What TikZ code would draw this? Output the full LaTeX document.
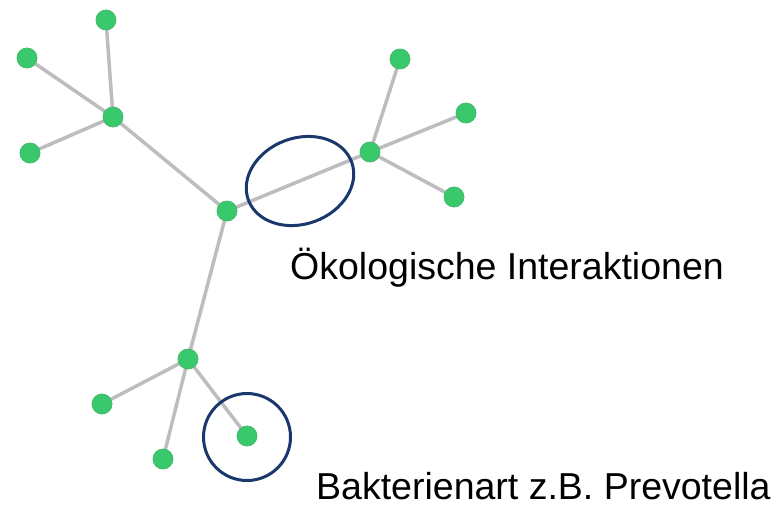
\documentclass[tikz,border=0pt]{standalone}
\usepackage{fontspec}
\setmainfont{Liberation Sans}
\usetikzlibrary{backgrounds}
\definecolor{nodegreen}{RGB}{58,200,108}
\definecolor{nodeedge}{RGB}{70,185,110}
\definecolor{linkgray}{RGB}{190,188,190}
\definecolor{ringblue}{RGB}{26,56,108}
\begin{document}
\begin{tikzpicture}[x=1pt,y=-1pt,
  vertex/.style={circle,fill=nodegreen,draw=nodeedge,line width=0.8pt,minimum size=20pt,inner sep=0pt},
  link/.style={draw=linkgray,line width=3.5pt},
  ring/.style={draw=ringblue,line width=3pt},
  caption/.style={anchor=base west,inner sep=0pt,font=\fontsize{37.5}{42}\selectfont}]
\useasboundingbox (0,0) rectangle (778,508);
% network nodes
\node[vertex] (a) at (106,20) {};
\node[vertex] (b) at (27,58) {};
\node[vertex] (c) at (113,117) {};
\node[vertex] (d) at (30,153) {};
\node[vertex] (e) at (227,211) {};
\node[vertex] (f) at (370,152) {};
\node[vertex] (g) at (400,59) {};
\node[vertex] (h) at (466,113) {};
\node[vertex] (i) at (454,197) {};
\node[vertex] (j) at (188,359) {};
\node[vertex] (k) at (102,404) {};
\node[vertex] (l) at (163,459) {};
\node[vertex] (m) at (247,436) {};
% edges, centre to centre, behind the nodes
\begin{scope}[on background layer]
\foreach \u/\v in {c/a,c/b,c/d,c/e,e/f,f/g,f/h,f/i,e/j,j/k,j/l,j/m}
  \draw[link] (\u.center) -- (\v.center);
\end{scope}
% highlight rings
\coordinate (ringA) at (300,181);
\coordinate (ringB) at (247,437);
\draw[ring,rotate around={20:(ringA)}] (ringA) ellipse [x radius=55, y radius=43];
\draw[ring] (ringB) circle [radius=43.5];
% captions
\node[caption] (t1) at (290,279) {Ökologische Interaktionen};
\node[caption] (t2) at (316,499) {Bakterienart z.B. Prevotella};
\end{tikzpicture}
\end{document}
